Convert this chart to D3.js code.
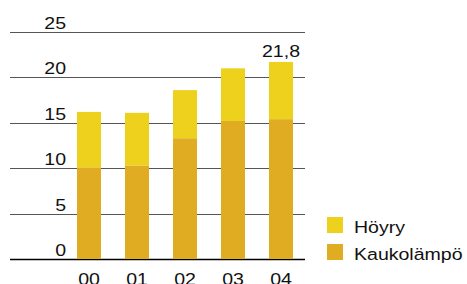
<!DOCTYPE html>
<html><head><meta charset="utf-8">
<script src="https://cdn.jsdelivr.net/npm/d3@7"></script>
<style>body{margin:0;background:#fff}svg{display:block}text{font-family:"Liberation Sans",Arial,sans-serif}</style>
</head><body>
<script>
const years = ["00","01","02","03","04"];
const kaukolampo = [10.1, 10.3, 13.3, 15.2, 15.4];
const hoyry = [6.1, 5.8, 5.3, 5.8, 6.3];
const yTicks = [0,5,10,15,20,25];
const totalLabel = "21,8";
const seriesNames = ["Höyry","Kaukolämpö"];
const colors = {"Höyry":"#EDD11D","Kaukolämpö":"#E0AC22"};

const W=467,H=284, FS=17, SX=1.15;
const svg=d3.select("body").append("svg").attr("width",W).attr("height",H);
const y=d3.scaleLinear().domain([0,25]).range([259,32]);
const x=d3.scaleBand().domain(years).range([65,305]).paddingInner(0.5).paddingOuter(0.25);
const tf=(px,py)=>`translate(${px},${py}) scale(${SX},1)`;

// gridlines
svg.append("g").selectAll("line").data(yTicks).join("line")
 .attr("x1",10).attr("x2",305).attr("y1",d=>Math.round(y(d))+0.5).attr("y2",d=>Math.round(y(d))+0.5)
 .attr("stroke",d=>d===0?"#000":"#555").attr("stroke-width",d=>d===0?1.5:1.2);
svg.append("g").selectAll("text").data(yTicks).join("text")
 .attr("transform",d=>tf(66,y(d)-3)).attr("text-anchor","end").attr("font-size",FS).attr("fill","#111").text(d=>d);

const data=years.map((yr,i)=>({yr,k:kaukolampo[i],h:hoyry[i]}));
const g=svg.append("g");
g.selectAll(".k").data(data).join("rect").attr("x",d=>x(d.yr)).attr("width",x.bandwidth())
 .attr("y",d=>y(d.k)).attr("height",d=>y(0)-y(d.k)).attr("fill",colors["Kaukolämpö"]);
g.selectAll(".h").data(data).join("rect").attr("x",d=>x(d.yr)).attr("width",x.bandwidth())
 .attr("y",d=>y(d.k+d.h)).attr("height",d=>y(d.k)-y(d.k+d.h)).attr("fill",colors["Höyry"]);

// x labels
svg.append("g").selectAll("text").data(years).join("text")
 .attr("transform",d=>tf(x(d)+x.bandwidth()/2,285)).attr("text-anchor","middle").attr("font-size",FS).attr("fill","#111").text(d=>d);

// total label
const last=data[data.length-1];
svg.append("text").attr("transform",tf(x(last.yr)+x.bandwidth()/2,57)).attr("text-anchor","middle")
 .attr("font-size",FS).attr("fill","#111").text(totalLabel);

// legend
const lg=svg.append("g");
seriesNames.forEach((n,i)=>{
 lg.append("rect").attr("x",327).attr("y",217+i*27).attr("width",16).attr("height",16).attr("fill",colors[n]);
 lg.append("text").attr("transform",tf(354,233+i*27)).attr("font-size",FS).attr("fill","#111").text(n);
});
</script>
</body></html>
